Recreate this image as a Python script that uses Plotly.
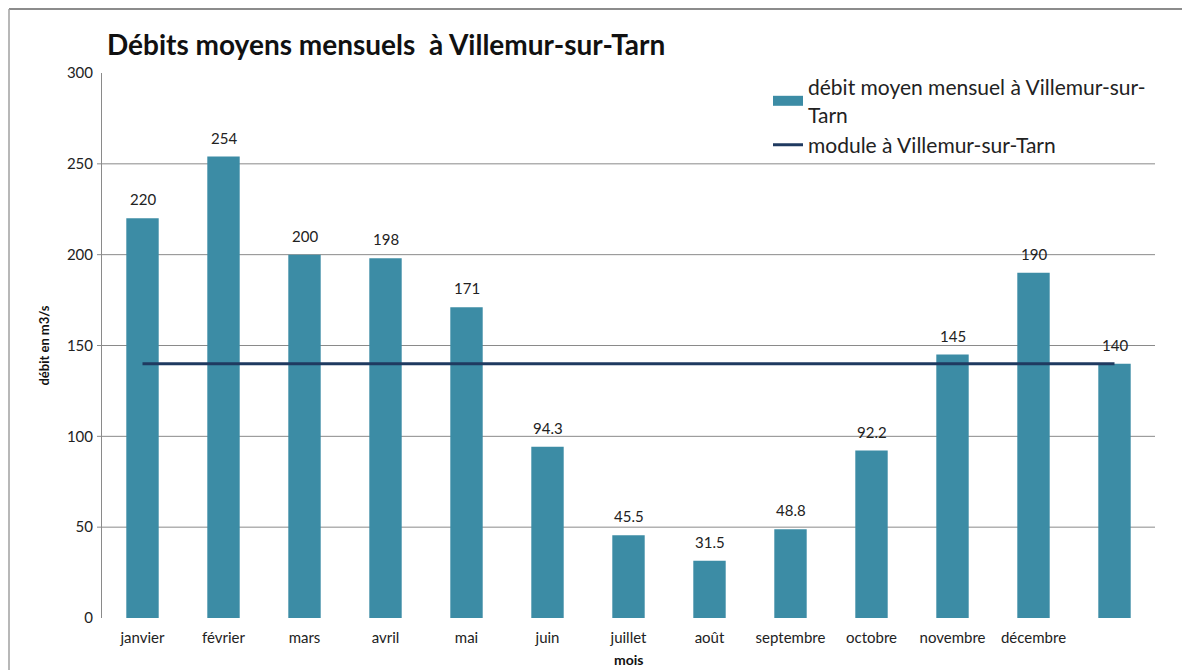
import plotly.graph_objects as go

months = ["janvier", "février", "mars", "avril", "mai", "juin", "juillet",
          "août", "septembre", "octobre", "novembre", "décembre", ""]
debits = [220, 254, 200, 198, 171, 94.3, 45.5, 31.5, 48.8, 92.2, 145, 190, 140]
module = 140
y_ticks = [0, 50, 100, 150, 200, 250, 300]

x_idx = list(range(len(months)))
FONT = "Lato, 'Open Sans', sans-serif"
GRID = "#8a8a8a"
BAR = "#3C8CA5"

# page body has an 8px margin; figure placed at (8, 8) in the window
OFF = 8
W, H = 1190 - OFF, 670 - OFF
L, T = 102 - OFF, 73 - OFF
pw, ph = 1053, 545
R, B = W - L - pw, H - T - ph

BAR_NAME = "débit moyen mensuel à Villemur-sur-<br>Tarn"

fig = go.Figure()
fig.add_trace(go.Bar(
    x=x_idx, y=debits,
    name=BAR_NAME, legendgroup="bar", showlegend=False,
    marker=dict(color=BAR, line=dict(width=0)),
    width=0.4,
))
# legend entry with a wide swatch like the original
fig.add_trace(go.Scatter(
    x=[None], y=[None], mode="lines", name=BAR_NAME, legendgroup="bar",
    line=dict(color=BAR, width=12),
))
fig.add_trace(go.Scatter(
    x=x_idx, y=[module] * len(x_idx), mode="lines",
    name="module à Villemur-sur-Tarn",
    line=dict(color="#1F3A60", width=3),
))

for xi, v in zip(x_idx, debits):
    fig.add_annotation(x=xi, y=v, text=f"{v:g}", showarrow=False,
                       yanchor="bottom", yshift=8,
                       font=dict(size=15, color="#222", family=FONT))

# x axis title
fig.add_annotation(x=0.5, xref="paper", y=-(660 - 618) / ph, yref="paper",
                   text="<b>mois</b>", showarrow=False, yanchor="middle",
                   font=dict(size=14, color="#111", family=FONT))

# horizontal gridlines (only inner ticks, with small outside tick)
for v in y_ticks[1:-1]:
    fig.add_shape(type="line", xref="paper", yref="y",
                  x0=-5 / pw, x1=1, y0=v, y1=v,
                  line=dict(color=GRID, width=1), layer="below")

# outer chart border: top and left edges only
bx = (1 - L) / pw
by = 1 + (T - 1) / ph
fig.add_shape(type="line", xref="paper", yref="paper",
              x0=bx, x1=(W - L) / pw, y0=by, y1=by,
              line=dict(color="#8c8c8c", width=2), layer="below")
fig.add_shape(type="line", xref="paper", yref="paper",
              x0=bx, x1=bx, y0=by, y1=-B / ph,
              line=dict(color="#a0a0a0", width=1.5), layer="below")

fig.update_layout(
    width=W, height=H,
    margin=dict(l=L, r=R, t=T, b=B, autoexpand=False),
    paper_bgcolor="white", plot_bgcolor="white",
    font=dict(family=FONT, color="#222"),
    title=dict(text="<b>Débits moyens mensuels  à Villemur-sur-Tarn</b>",
               x=(107 - 102) / pw, xref="paper", xanchor="left",
               y=1 - (45 - OFF) / H, yref="container", yanchor="middle",
               font=dict(size=28, color="#111", family=FONT)),
    legend=dict(x=(768 - 102) / pw, y=1 + (73 - 67) / ph, xanchor="left", yanchor="top",
                font=dict(size=21, color="#222", family=FONT),
                bgcolor="rgba(0,0,0,0)", tracegroupgap=0),
    showlegend=True,
)
fig.update_xaxes(
    range=[-0.5, len(months) - 0.5],
    tickvals=x_idx[:-1], ticktext=months[:-1],
    showgrid=False, showline=False, zeroline=False,
    ticks="outside", ticklen=6, tickcolor="rgba(0,0,0,0)",
    tickfont=dict(size=15, color="#222", family=FONT),
    automargin=False,
)
fig.update_yaxes(
    range=[0, 300], tickvals=y_ticks,
    showgrid=False,
    showline=True, linecolor=GRID, linewidth=1,
    ticks="outside", ticklen=5, tickcolor="rgba(0,0,0,0)",
    zeroline=False, automargin=False,
    tickfont=dict(size=15, color="#222", family=FONT),
    title=dict(text="<b>débit en m3/s</b>", font=dict(size=13, color="#111", family=FONT), standoff=14),
)

fig.write_html("out.html")
